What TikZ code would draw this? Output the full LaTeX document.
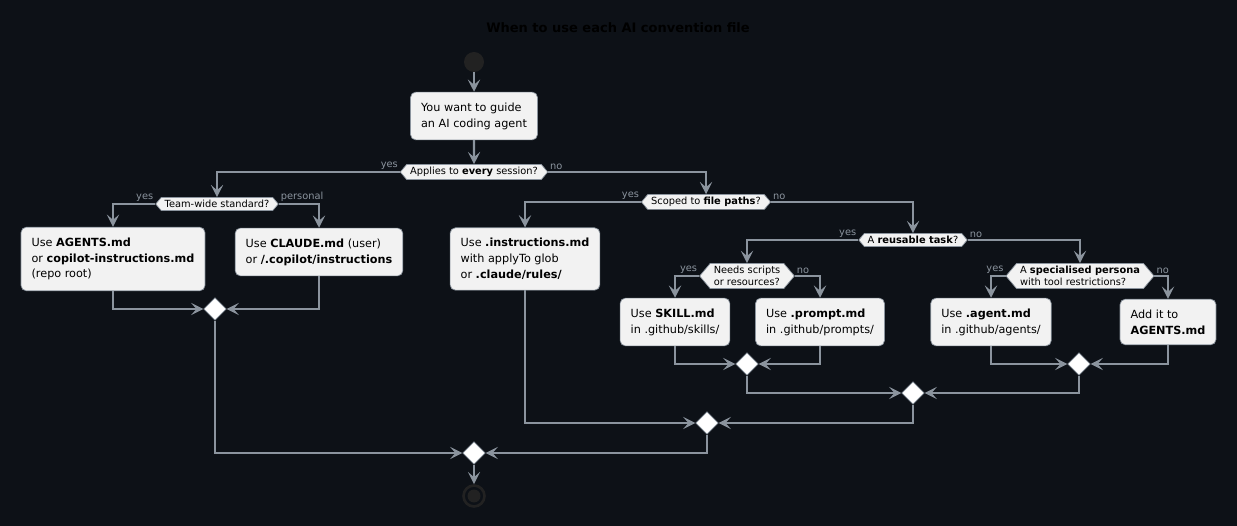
\documentclass[tikz,border=0pt]{standalone}
\usepackage{fontspec}
\setmainfont{DejaVu Sans}
\usetikzlibrary{arrows.meta, positioning, shapes.geometric, shapes.symbols}
\definecolor{bgdark}{RGB}{13,17,23}
\definecolor{lnk}{RGB}{139,148,158}
\definecolor{boxfill}{RGB}{242,242,242}
\definecolor{startfill}{RGB}{34,34,34}

\tikzset{
  flow/.style={draw=lnk, line width=1.2pt, -{Stealth[length=7pt, width=7pt, inset=3pt]}},
  act/.style={draw=lnk, fill=boxfill, rounded corners=3pt, align=left, inner sep=6pt,
    font=\fontsize{6.4}{9}\selectfont, text=black},
  ask/.style={draw=lnk, fill=boxfill, shape=signal, signal to=east and west,
    signal pointer angle=100, align=left, inner sep=1.5pt, inner xsep=2pt,
    font=\fontsize{5.6}{7}\selectfont, text=black},
  merge/.style={draw=lnk, fill=white, diamond, minimum size=0.45cm, inner sep=0pt},
  tag/.style={font=\fontsize{5.6}{7}\selectfont, text=lnk, inner sep=1pt}
}

\begin{document}
\begin{tikzpicture}[x=0.02cm, y=-0.02cm]
\fill[bgdark] (0,0) rectangle (1237,526);
\useasboundingbox (0,0) rectangle (1237,526);

% title
\node[font=\bfseries\fontsize{7.4}{9}\selectfont, text=black] (title) at (618,28) {When to use each AI convention file};

% start and first action
\node[circle, fill=startfill, minimum size=0.4cm, inner sep=0pt] (start) at (474,62) {};
\node[act] (guide) at (474,116) {You want to guide\\an AI coding agent};
\node[ask] (every) at (474,172) {Applies to \textbf{every} session?};

% left side
\node[ask] (team) at (217,204) {Team-wide standard?};
\node[act, minimum height=1.22cm] (agentsmd) at (113,259) {Use \textbf{AGENTS.md}\\or \textbf{copilot-instructions.md}\\(repo root)};
\node[act] (claudemd) at (319,252) {Use \textbf{CLAUDE.md} (user)\\or \textbf{/.copilot/instructions}};
\node[merge] (m1) at (215,309) {};

% right side
\node[ask] (paths) at (706,202) {Scoped to \textbf{file paths}?};
\node[act, minimum height=1.22cm] (instr) at (525,259) {Use \textbf{.instructions.md}\\with applyTo glob\\or \textbf{.claude/rules/}};
\node[ask] (task) at (913,240) {A \textbf{reusable task}?};
\node[ask] (scripts) at (747,276) {Needs scripts\\or resources?};
\node[ask] (persona) at (1080,276) {A \textbf{specialised persona}\\with tool restrictions?};
\node[act] (skill) at (675,322) {Use \textbf{SKILL.md}\\in .github/skills/};
\node[act] (prompt) at (820,322) {Use \textbf{.prompt.md}\\in .github/prompts/};
\node[act] (agent) at (991,322) {Use \textbf{.agent.md}\\in .github/agents/};
\node[act] (addit) at (1168,322) {Add it to\\\textbf{AGENTS.md}};
\node[merge] (m2) at (747,364) {};
\node[merge] (m3) at (1079,364) {};
\node[merge] (m4) at (913,393) {};
\node[merge] (m5) at (707,423) {};
\node[merge] (m6) at (474,453) {};

% end
\node[circle, draw=startfill, line width=1.5pt, fill=bgdark, minimum size=0.42cm, inner sep=0pt] (stop) at (474,496) {};
\fill[startfill] (stop) circle (0.13cm);

% connectors
\draw[flow] (start) -- (guide);
\draw[flow] (guide) -- (every);
\draw[flow] (every.west) -| (team.north);
\draw[flow] (every.east) -| (paths.north);
\draw[flow] (team.west) -| (agentsmd.north);
\draw[flow] (team.east) -| (claudemd.north);
\draw[flow] (agentsmd.south) |- (m1.west);
\draw[flow] (claudemd.south) |- (m1.east);
\draw[flow] (paths.west) -| (instr.north);
\draw[flow] (paths.east) -| (task.north);
\draw[flow] (task.west) -| (scripts.north);
\draw[flow] (task.east) -| (persona.north);
\draw[flow] (scripts.west) -| (skill.north);
\draw[flow] (scripts.east) -| (prompt.north);
\draw[flow] (persona.west) -| (agent.north);
\draw[flow] (persona.east) -| (addit.north);
\draw[flow] (skill.south) |- (m2.west);
\draw[flow] (prompt.south) |- (m2.east);
\draw[flow] (agent.south) |- (m3.west);
\draw[flow] (addit.south) |- (m3.east);
\draw[flow] (m2.south) |- (m4.west);
\draw[flow] (m3.south) |- (m4.east);
\draw[flow] (instr.south) |- (m5.west);
\draw[flow] (m4.south) |- (m5.east);
\draw[flow] (m1.south) |- (m6.west);
\draw[flow] (m5.south) |- (m6.east);
\draw[flow] (m6) -- (stop);

% branch labels
\node[tag, above left] at (every.west) {yes};
\node[tag, above right] at (every.east) {no};
\node[tag, above left] at (team.west) {yes};
\node[tag, above right] at (team.east) {personal};
\node[tag, above left] at (paths.west) {yes};
\node[tag, above right] at (paths.east) {no};
\node[tag, above left] at (task.west) {yes};
\node[tag, above right] at (task.east) {no};
\node[tag, above left] at (scripts.west) {yes};
\node[tag, above right] at (scripts.east) {no};
\node[tag, above left] at (persona.west) {yes};
\node[tag, above right] at (persona.east) {no};
\end{tikzpicture}
\end{document}
